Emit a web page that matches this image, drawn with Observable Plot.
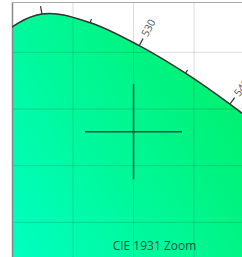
<!DOCTYPE html>
<html><head><meta charset="utf-8">
<script src="https://cdn.jsdelivr.net/npm/d3@7"></script>
<script src="https://cdn.jsdelivr.net/npm/@observablehq/plot@0.6"></script>
<style>html,body{margin:0;padding:0;background:#fff;overflow:hidden}</style>
</head><body><div id="chart"></div>
<script>
// CIE 1931 2° spectral locus chromaticities (nm, x, y)
const wavelengths = [510, 515, 520, 525, 530, 535, 540, 545, 550, 555, 560];
const locusX = [0.0139, 0.0389, 0.0743, 0.1142, 0.1547, 0.1929, 0.2296, 0.2658, 0.3016, 0.3373, 0.3731];
const locusY = [0.7502, 0.8120, 0.8338, 0.8262, 0.8059, 0.7816, 0.7543, 0.7243, 0.6923, 0.6589, 0.6245];
const gridX = [0.10, 0.15, 0.20];
const gridY = [0.65, 0.70, 0.75, 0.80];
const crossCenter = [0.15, 0.73];
const crossHalf = [0.04, 0.042];
const labelStep = 10;
const captionText = ["CIE 1931 Zoom"];
const xDomain = [0.05, 0.24];
const yDomain = [0.619, 0.844];

const W = 242, H = 257, mL = 12, mT = 2;
const sx = d3.scaleLinear(xDomain, [mL, W]);
const sy = d3.scaleLinear(yDomain, [H, mT]);

const locus = wavelengths.map((w, i) => ({w, x: locusX[i], y: locusY[i]}));

const ticks = [];
for (let i = 1; i < locus.length - 1; i++) {
  const a = locus[i - 1], b = locus[i + 1], p = locus[i];
  const tx = sx(b.x) - sx(a.x), ty = sy(b.y) - sy(a.y);
  const L = Math.hypot(tx, ty);
  const nx = ty / L, ny = -tx / L;
  const major = p.w % labelStep === 0;
  const len = major ? 8 : 4;
  const px = sx(p.x), py = sy(p.y);
  ticks.push({
    w: p.w, major,
    x1: p.x, y1: p.y,
    x2: sx.invert(px + nx * len), y2: sy.invert(py + ny * len),
    lx: sx.invert(px + nx * 11), ly: sy.invert(py + ny * 11),
    lpx: px + nx * 11, lpy: py + ny * 11,
    angle: Math.atan2(ny, nx) * 180 / Math.PI
  });
}
// only labels whose anchor sits inside the frame with room to show
const labels = ticks.filter(d => d.major && d.lpx < W - 2 && d.lpy > mT + 8 && d.lpy < H);

const cross = [
  {x1: crossCenter[0] - crossHalf[0], x2: crossCenter[0] + crossHalf[0], y1: crossCenter[1], y2: crossCenter[1]},
  {x1: crossCenter[0], x2: crossCenter[0], y1: crossCenter[1] - crossHalf[1], y2: crossCenter[1] + crossHalf[1]}
];

const svg = Plot.plot({
  width: W, height: H,
  marginLeft: mL, marginTop: mT, marginRight: 0, marginBottom: 0,
  style: {fontFamily: "'Open Sans', sans-serif", background: "#fff", overflow: "visible"},
  x: {domain: xDomain, range: [mL, W], axis: null},
  y: {domain: yDomain, range: [H, mT], axis: null},
  marks: [
    Plot.areaY(locus, {x: "x", y1: yDomain[0], y2: "y", fill: "url(#cieGrad)", curve: "catmull-rom", clip: true}),
    Plot.ruleX(gridX, {stroke: "#000", strokeOpacity: 0.14}),
    Plot.ruleY(gridY, {stroke: "#000", strokeOpacity: 0.14}),
    Plot.ruleX([xDomain[0]], {stroke: "#888", strokeWidth: 1.5}),
    Plot.ruleY([yDomain[1]], {stroke: "#aaa", strokeWidth: 1}),
    Plot.link(cross, {x1: "x1", y1: "y1", x2: "x2", y2: "y2", stroke: "#333", strokeWidth: 1.5, strokeOpacity: 0.85}),
    Plot.line(locus, {x: "x", y: "y", stroke: "#333", strokeWidth: 1.5, curve: "catmull-rom", clip: true}),
    Plot.link(ticks, {x1: "x1", y1: "y1", x2: "x2", y2: "y2", stroke: "#333", strokeWidth: 1.2, clip: true}),
    Plot.text(labels, {x: "lx", y: "ly", text: d => String(d.w), rotate: "angle",
      textAnchor: "start", lineAnchor: "middle", fontSize: 10.5, fill: "#555", clip: true}),
    Plot.text(captionText, {frameAnchor: "bottom", dx: 27, dy: -7.5, lineAnchor: "bottom",
      fontSize: 12, fill: "#333", fillOpacity: 0.9})
  ]
});

const defs = d3.select(svg).insert("defs", ":first-child");
const g = defs.append("linearGradient").attr("id", "cieGrad")
  .attr("gradientUnits", "userSpaceOnUse")
  .attr("x1", mL).attr("y1", H).attr("x2", W + 10).attr("y2", 110);
g.append("stop").attr("offset", 0).attr("stop-color", "#00ffc2");
g.append("stop").attr("offset", 1).attr("stop-color", "#00f06e");

document.getElementById("chart").appendChild(svg);
</script>
</body></html>
